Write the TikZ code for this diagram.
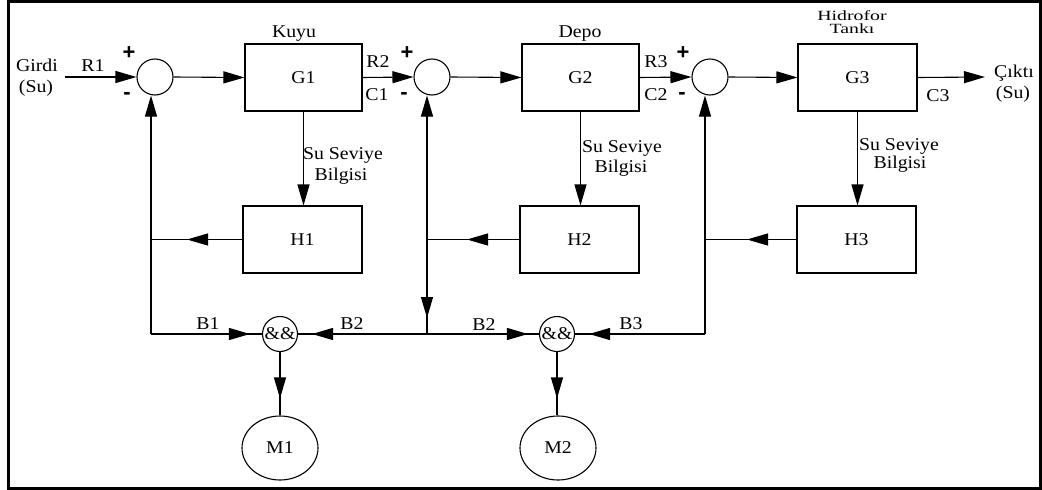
\documentclass[tikz,border=0pt]{standalone}
\usepackage{fontspec}
\usepackage{graphicx}
\setmainfont{Liberation Serif}
\newfontfamily\pmfont{Liberation Sans}
\usetikzlibrary{arrows.meta,shapes.geometric}
\newcommand\wtx[1]{\scalebox{1.1}[1]{#1}}
\newcommand\sqx[1]{\scalebox{1.1}[0.78]{#1}}
\begin{document}
\begin{tikzpicture}[x=1pt,y=-1pt,
  line width=1.1pt,
  every node/.style={font=\fontsize{18}{20}\selectfont, inner sep=0pt},
  blk/.style={draw, rectangle, minimum width=118pt, minimum height=67pt},
  sumc/.style={draw, circle, minimum size=36pt},
  andc/.style={draw, circle, minimum size=35pt},
  mot/.style={draw, ellipse, minimum width=76pt, minimum height=64pt},
  arr/.style={-{Triangle[length=21pt,width=12pt]}},
  lbl/.style={anchor=base},
  pm/.style={font=\pmfont\bfseries\fontsize{22}{22}\selectfont},
]
\useasboundingbox (0,0) rectangle (1042,490);
\draw[line width=2.5pt] (8.5,1.5) rectangle (1040.5,488.5);

% blocks
\node[sumc] (sum1) at (155,77) {};
\node[sumc] (sum2) at (432,77) {};
\node[sumc] (sum3) at (710,77) {};
\node[blk, minimum width=117pt] (G1) at (303.5,77.5) {\wtx{G1}};
\node[blk, minimum width=117pt] (G2) at (580.5,77.5) {\wtx{G2}};
\node[blk, minimum width=119pt] (G3) at (857.5,77.5) {\wtx{G3}};
\node[blk, minimum width=119pt] (H1) at (302.5,239.5) {\wtx{H1}};
\node[blk, minimum width=119pt] (H2) at (579.5,239.5) {\wtx{H2}};
\node[blk, minimum width=119pt] (H3) at (856.5,239.5) {\wtx{H3}};
\node[andc] (and1) at (280,334) {\wtx{\&\&}};
\node[andc] (and2) at (557,334) {\wtx{\&\&}};
\node[mot] (M1) at (280,448) {\wtx{M1}};
\node[mot] (M2) at (558,448) {\wtx{M2}};

\coordinate (in) at (65,77);
\coordinate (out) at (985,77);
\coordinate (b1) at (151,334);
\coordinate (b2) at (427,334);
\coordinate (b3) at (705,334);

% forward path
\draw[arr] (in) -- (sum1.west);
\draw[arr] (sum1.east) -- (G1.west);
\draw[arr] (G1.east) -- (sum2.west);
\draw[arr] (sum2.east) -- (G2.west);
\draw[arr] (G2.east) -- (sum3.west);
\draw[arr] (sum3.east) -- (G3.west);
\draw[arr] (G3.east) -- (out);

% level info
\draw[arr] (G1.south) -- (G1.south |- H1.north);
\draw[arr] (G2.south) -- (G2.south |- H2.north);
\draw[arr] (G3.south) -- (G3.south |- H3.north);

% feedback
\draw (H1.west) -- (H1.west -| b1);
\draw[arr, shorten >=36pt] (H1.west) -- (H1.west -| b1);
\draw (H2.west) -- (H2.west -| b2);
\draw[arr, shorten >=40pt] (H2.west) -- (H2.west -| b2);
\draw (H3.west) -- (H3.west -| b3);
\draw[arr, shorten >=42pt] (H3.west) -- (H3.west -| b3);

\draw[arr] (b1) -- (b1 |- sum1.south);
\draw[arr] (b2) -- (b2 |- sum2.south);
\draw[arr, shorten >=16pt] (b2 |- H2.west) -- (b2);
\draw[arr] (b3) -- (b3 |- sum3.south);

% bottom logic
\draw (b1) -- (and1.west);
\draw[arr, shorten >=12pt] (b1) -- (and1.west);
\draw (b2) -- (and1.east);
\draw[arr, shorten >=14pt] (b2) -- (and1.east);
\draw (b2) -- (and2.west);
\draw[arr, shorten >=11pt] (b2) -- (and2.west);
\draw (b3) -- (and2.east);
\draw[arr, shorten >=14pt] (b3) -- (and2.east);
\draw (and1.south) -- (M1.north);
\draw[arr, shorten >=17pt] (and1.south) -- (M1.north);
\draw (and2.south) -- (and2.south |- M2.north);
\draw[arr, shorten >=17pt] (and2.south) -- (and2.south |- M2.north);

% labels
\node[lbl] (girdi) at (37,71) {\wtx{Girdi}};
\node[lbl] (su1) at (36,92) {\wtx{(Su)}};
\node[lbl] (r1) at (93,71) {\wtx{R1}};
\node[pm] (p1) at (129,53) {+};
\node[pm] (m1) at (127,96) {-};
\node[lbl] (kuyu) at (294,37) {\wtx{Kuyu}};
\node[lbl] (r2) at (378,67) {\wtx{R2}};
\node[lbl] (c1) at (377,100) {\wtx{C1}};
\node[pm] (p2) at (407,53) {+};
\node[pm] (m2) at (404,96) {-};
\node[lbl] (depo) at (580,37) {\wtx{Depo}};
\node[lbl] (r3) at (656,67) {\wtx{R3}};
\node[lbl] (c2) at (656,100) {\wtx{C2}};
\node[pm] (p3) at (683,53) {+};
\node[pm] (m3) at (682,96) {-};
\node[lbl] (hid) at (852,20) {\sqx{Hidrofor}};
\node[lbl] (tank) at (852,33.5) {\sqx{Tankı}};
\node[lbl] (cikti) at (1014,77) {\wtx{Çıktı}};
\node[lbl] (su2) at (1013,98) {\wtx{(Su)}};
\node[lbl] (c3) at (938,101) {\wtx{C3}};
\node[lbl] (ss1) at (343,159) {\wtx{Su Seviye}};
\node[lbl] (bb1) at (341,180) {\wtx{Bilgisi}};
\node[lbl] (ss2) at (622,152) {\wtx{Su Seviye}};
\node[lbl] (bb2) at (621,172) {\wtx{Bilgisi}};
\node[lbl] (ss3) at (899,150) {\wtx{Su Seviye}};
\node[lbl] (bb3) at (900,168) {\wtx{Bilgisi}};
\node[lbl] (lb1) at (208,329) {\wtx{B1}};
\node[lbl] (lb2a) at (352,329) {\wtx{B2}};
\node[lbl] (lb2b) at (484,330) {\wtx{B2}};
\node[lbl] (lb3) at (631,329) {\wtx{B3}};
\end{tikzpicture}
\end{document}
